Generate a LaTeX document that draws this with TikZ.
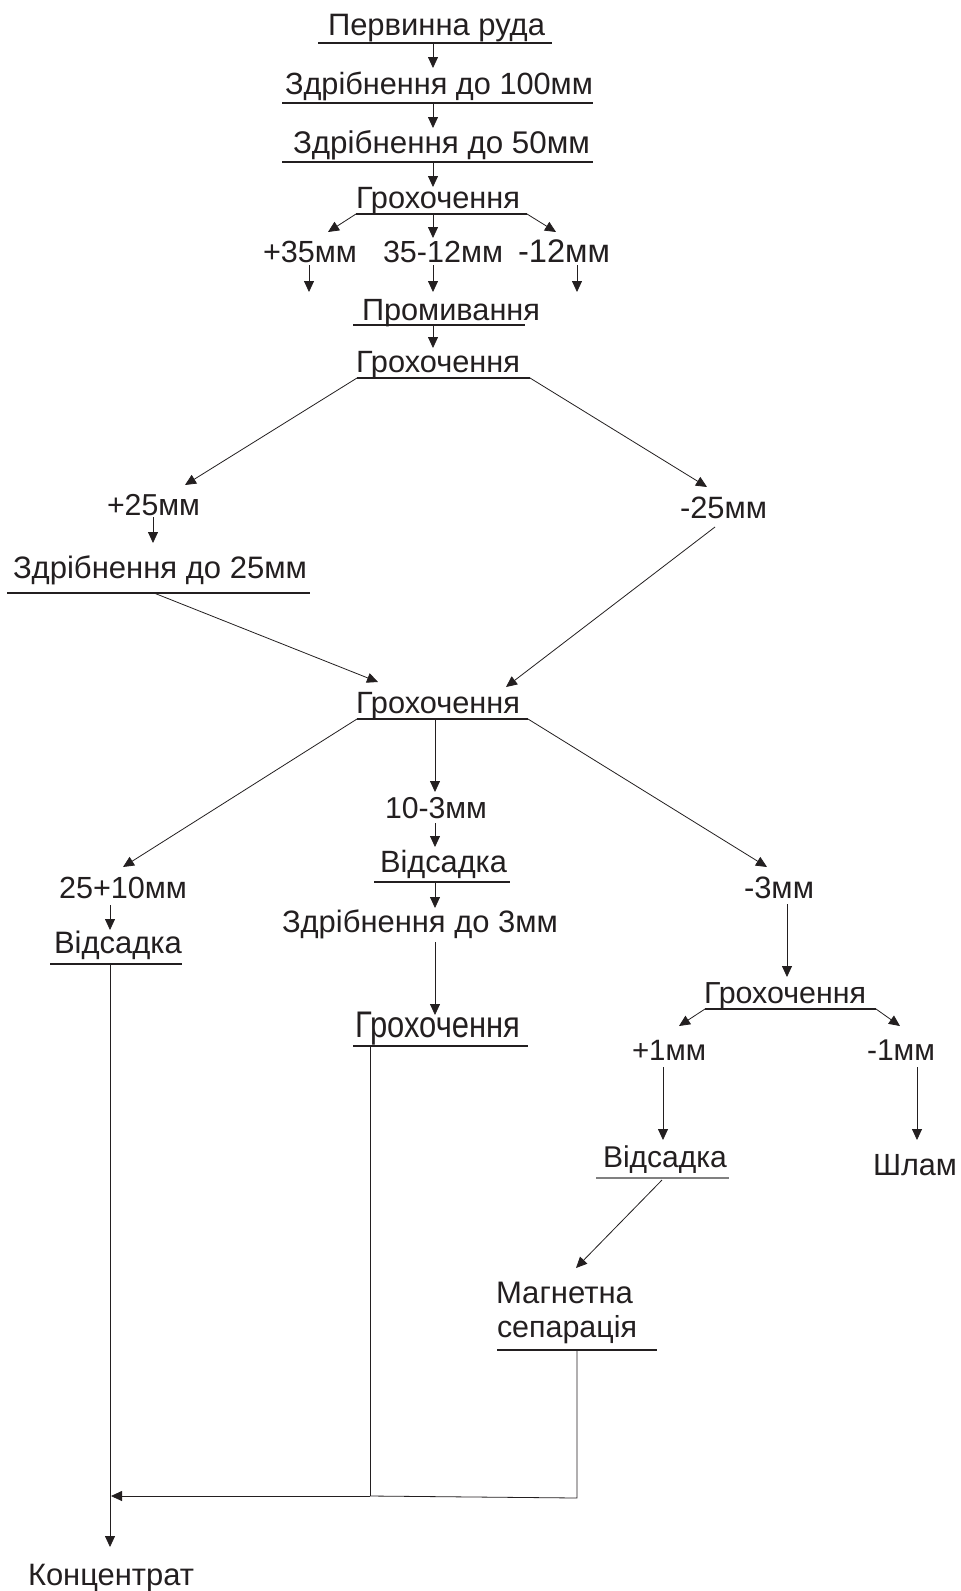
\documentclass[tikz,border=0pt]{standalone}
\usepackage{fontspec}
\usepackage{graphicx}
\setmainfont{Liberation Sans}
\usetikzlibrary{arrows.meta}
\definecolor{ink}{HTML}{231F20}
% natural proportions, fitted to a width
\newcommand\wl[2]{{\fontsize{30pt}{30pt}\selectfont\resizebox{#1pt}{!}{#2}}}
% condensed: given size, fitted to a width
\newcommand\lab[3]{{\fontsize{#1pt}{#1pt}\selectfont\resizebox{#2pt}{\height}{#3}}}
\tikzset{
  lbl/.style={anchor=base west, inner sep=0pt, outer sep=0pt, text=ink},
  uline/.style={draw=ink, line width=1.2pt},
  arr/.style={draw=ink, line width=0.8pt, -{Triangle[length=11pt,width=10pt]}},
  plain/.style={draw=ink, line width=0.8pt}
}
\begin{document}
\begin{tikzpicture}[x=1pt,y=-1pt]
\useasboundingbox[fill=white] (0,0) rectangle (961,1591);
% ---- text nodes
\node[lbl] (prv)  at (328,35)   {\wl{217}{Первинна руда}};
\node[lbl] (z100) at (285,94)   {\wl{308}{Здрібнення до 100мм}};
\node[lbl] (z50)  at (293,153)  {\wl{297}{Здрібнення до 50мм}};
\node[lbl] (g1)   at (356,208)  {\wl{164}{Грохочення}};
\node[lbl] (p35)  at (263,262)  {\wl{94}{+35мм}};
\node[lbl] (m35)  at (383,262)  {\wl{120}{35-12мм}};
\node[lbl] (m12)  at (518,262)  {\wl{92}{-12мм}};
\node[lbl] (prom) at (362,320)  {\wl{178}{Промивання}};
\node[lbl] (g2)   at (356,372)  {\wl{164}{Грохочення}};
\node[lbl] (p25)  at (107,515)  {\wl{93}{+25мм}};
\node[lbl] (m25)  at (680,518)  {\wl{87}{-25мм}};
\node[lbl] (z25)  at (13,578)   {\wl{294}{Здрібнення до 25мм}};
\node[lbl] (g3)   at (356,713)  {\wl{164}{Грохочення}};
\node[lbl] (m103) at (385,818)  {\wl{102}{10-3мм}};
\node[lbl] (vid1) at (380,872)  {\wl{127}{Відсадка}};
\node[lbl] (z3)   at (282,932)  {\wl{276}{Здрібнення до 3мм}};
\node[lbl] (g4)   at (355,1037) {\lab{37}{165}{Грохочення}};
\node[lbl] (p2510) at (59,898)  {\wl{128}{25+10мм}};
\node[lbl] (vid2) at (54,953)   {\wl{128}{Відсадка}};
\node[lbl] (m3)   at (744,898)  {\wl{70}{-3мм}};
\node[lbl] (g5)   at (704,1003) {\wl{162}{Грохочення}};
\node[lbl] (p1)   at (632,1060) {\wl{74}{+1мм}};
\node[lbl] (m1)   at (867,1060) {\wl{68}{-1мм}};
\node[lbl] (vid3) at (603,1167) {\wl{124}{Відсадка}};
\node[lbl] (shl)  at (873,1175) {\wl{84}{Шлам}};
\node[lbl] (mag1) at (496,1303) {\wl{137}{Магнетна}};
\node[lbl] (mag2) at (497,1337) {\wl{140}{сепарація}};
\node[lbl] (konc) at (28,1585)  {\wl{166}{Концентрат}};
% ---- underlines (named ends)
\draw[uline] (318,43) coordinate (u1a) -- (552,43) coordinate (u1b);
\draw[uline] (282,103) coordinate (u2a) -- (593,103) coordinate (u2b);
\draw[uline] (282,162) coordinate (u3a) -- (593,162) coordinate (u3b);
\draw[uline] (356,214) coordinate (u4a) -- (527,214) coordinate (u4b);
\draw[uline] (353,325) coordinate (u8a) -- (525,325) coordinate (u8b);
\draw[uline] (357,378) coordinate (u9a) -- (530,378) coordinate (u9b);
\draw[uline] (7,593) coordinate (u12a) -- (310,593) coordinate (u12b);
\draw[uline] (357,719) coordinate (u13a) -- (528,719) coordinate (u13b);
\draw[uline] (374,882) coordinate (u15a) -- (510,882) coordinate (u15b);
\draw[uline] (353,1046) coordinate (u17a) -- (528,1046) coordinate (u17b);
\draw[uline] (50,964) coordinate (u19a) -- (182,964) coordinate (u19b);
\draw[uline] (705,1009) coordinate (u21a) -- (876,1009) coordinate (u21b);
\draw[uline, draw=gray] (596,1178) coordinate (u24a) -- (729,1178) coordinate (u24b);
\draw[uline] (497,1350) coordinate (u27a) -- (657,1350) coordinate (u27b);
% ---- connector endpoints
\coordinate (s1) at (433,43);   \coordinate (t1) at (433,68);
\coordinate (s2) at (433,103);  \coordinate (t2) at (433,128);
\coordinate (s3) at (433,162);  \coordinate (t3) at (433,187);
\coordinate (t4l) at (328,232); \coordinate (s4m) at (433,214); \coordinate (t4m) at (433,238); \coordinate (t4r) at (556,232);
\coordinate (s5a) at (309,265); \coordinate (t5a) at (309,292);
\coordinate (s5b) at (433,265); \coordinate (t5b) at (433,292);
\coordinate (s5c) at (577,265); \coordinate (t5c) at (577,292);
\coordinate (s8) at (433,325);  \coordinate (t8) at (433,348);
\coordinate (t9l) at (185,485); \coordinate (t9r) at (707,487);
\coordinate (s10) at (153,517); \coordinate (t10) at (153,543);
\coordinate (s12) at (154,593); \coordinate (t12) at (378,682);
\coordinate (s11) at (715,527); \coordinate (t11) at (506,687);
\coordinate (t13l) at (123,867); \coordinate (s13m) at (435,719); \coordinate (t13m) at (435,792); \coordinate (t13r) at (767,867);
\coordinate (s14) at (435,823); \coordinate (t14) at (435,847);
\coordinate (s15) at (435,882); \coordinate (t15) at (435,908);
\coordinate (s16) at (435,942); \coordinate (t16) at (435,1015);
\coordinate (s18) at (110,905); \coordinate (t18) at (110,930);
\coordinate (s20) at (787,904); \coordinate (t20) at (787,977);
\coordinate (t21l) at (679,1026); \coordinate (t21r) at (900,1026);
\coordinate (s22) at (663,1067); \coordinate (t22) at (663,1140);
\coordinate (s23) at (917,1067); \coordinate (t23) at (917,1140);
\coordinate (s24) at (662,1180); \coordinate (t24) at (576,1268);
\coordinate (s19) at (110,964); \coordinate (t19) at (110,1547);
\coordinate (s17) at (370,1046); \coordinate (j17) at (370,1496);
\coordinate (s27) at (577,1350); \coordinate (c27) at (577,1498);
\coordinate (tj) at (111,1496);
% ---- connectors
\draw[arr] (s1) -- (t1);
\draw[arr] (s2) -- (t2);
\draw[arr] (s3) -- (t3);
\draw[arr] (u4a) -- (t4l);
\draw[arr] (s4m) -- (t4m);
\draw[arr] (u4b) -- (t4r);
\draw[arr] (s5a) -- (t5a);
\draw[arr] (s5b) -- (t5b);
\draw[arr] (s5c) -- (t5c);
\draw[arr] (s8) -- (t8);
\draw[arr] (u9a) -- (t9l);
\draw[arr] (u9b) -- (t9r);
\draw[arr] (s10) -- (t10);
\draw[arr] (s12) -- (t12);
\draw[arr] (s11) -- (t11);
\draw[arr] (u13a) -- (t13l);
\draw[arr] (s13m) -- (t13m);
\draw[arr] (u13b) -- (t13r);
\draw[arr] (s14) -- (t14);
\draw[arr] (s15) -- (t15);
\draw[arr] (s16) -- (t16);
\draw[arr] (s18) -- (t18);
\draw[arr] (s20) -- (t20);
\draw[arr] (u21a) -- (t21l);
\draw[arr] (u21b) -- (t21r);
\draw[arr] (s22) -- (t22);
\draw[arr] (s23) -- (t23);
\draw[arr] (s24) -- (t24);
\draw[arr] (s19) -- (t19);
\draw[plain] (s17) -- (j17);
\draw[plain] (s27) -- (c27) -- (j17);
\draw[arr] (j17) -- (tj);
\end{tikzpicture}
\end{document}
